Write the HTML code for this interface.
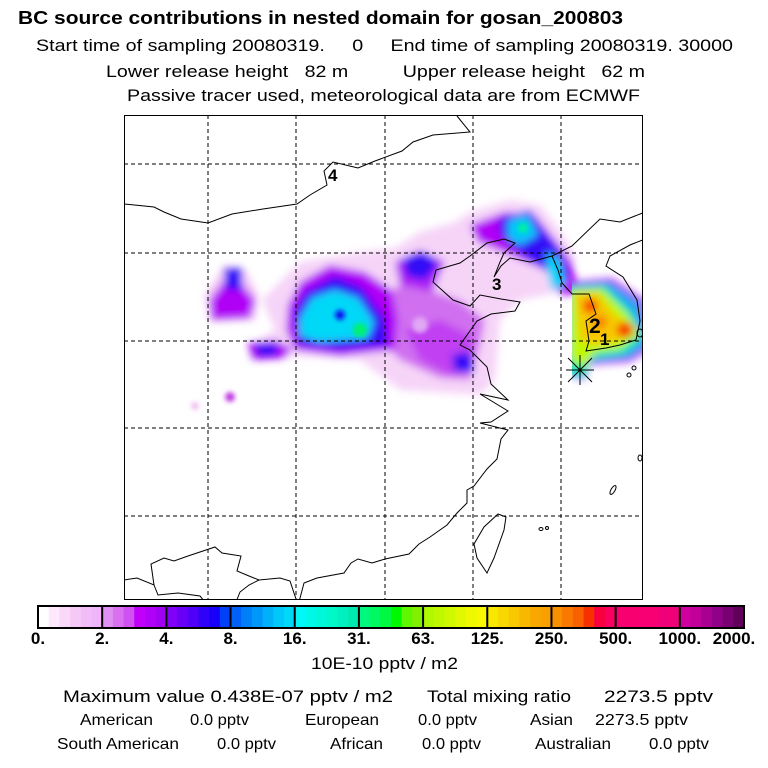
<!DOCTYPE html>
<html><head><meta charset="utf-8"><style>
html,body{margin:0;padding:0;background:#fff;width:768px;height:768px;overflow:hidden}
svg{display:block}
text{font-family:"Liberation Sans",Arial,sans-serif;fill:#000}
</style></head><body>
<svg id="chart" width="768" height="768" viewBox="0 0 768 768" xmlns="http://www.w3.org/2000/svg">
<defs>
<filter id="blur" x="-30%" y="-30%" width="160%" height="160%"><feGaussianBlur stdDeviation="4"/></filter>
<filter id="blur2" x="-30%" y="-30%" width="160%" height="160%"><feGaussianBlur stdDeviation="2.5"/></filter>
<clipPath id="mapclip"><rect x="124" y="115" width="519" height="485"/></clipPath>
<clipPath id="korclip"><rect x="572" y="115" width="71" height="485"/></clipPath>
</defs>
<g>
<text x="18" y="24" font-size="18" font-weight="bold" textLength="605" lengthAdjust="spacingAndGlyphs">BC  source contributions in nested domain for gosan_200803</text>
<text x="36" y="51" font-size="17" textLength="697" lengthAdjust="spacingAndGlyphs" xml:space="preserve">Start time of sampling 20080319.     0     End time of sampling 20080319. 30000</text>
<text x="106" y="77" font-size="17" textLength="539" lengthAdjust="spacingAndGlyphs" xml:space="preserve">Lower release height   82 m          Upper release height   62 m</text>
<text x="127" y="101" font-size="17" textLength="513" lengthAdjust="spacingAndGlyphs">Passive tracer used, meteorological data are from ECMWF</text>
</g>
<g clip-path="url(#mapclip)">
<g filter="url(#blur)">
 <path fill="#f6d4f8" d="M262,300 L300,262 L360,252 L395,248 L420,232 L455,222 L470,212 L510,200 L540,205 L560,230 L575,255 L570,290 L520,300 L500,320 L495,380 L480,395 L400,390 L360,360 L300,356 L250,360 L250,345 L275,330 Z"/>
 <path fill="#f3c4f5" d="M205,295 L225,265 L245,270 L258,295 L255,320 L210,322 Z"/>
 <path fill="#d070f0" d="M380,300 L400,285 L430,290 L460,300 L485,320 L480,345 L470,380 L440,378 L400,360 L380,340 Z"/>
 <path fill="#c040f2" d="M405,330 L440,320 L470,335 L475,370 L450,375 L420,360 Z"/>
 <path fill="#b000f6" d="M288,305 L300,282 L330,265 L365,272 L392,290 L398,320 L395,350 L340,356 L295,350 L286,330 Z"/>
 <path fill="#b020f4" d="M395,262 L420,250 L445,262 L432,292 L400,285 Z"/>
 <path fill="#b000f6" d="M210,300 L225,280 L240,282 L255,300 L250,318 L212,320 Z"/>
 <path fill="#b000f6" d="M248,343 L275,340 L292,348 L285,358 L252,360 Z"/>
 <path fill="#b000f6" d="M470,225 L505,212 L535,215 L555,240 L572,262 L578,292 L562,296 L545,270 L510,255 L478,242 Z"/>
 <path fill="#3010f6" d="M294,312 L305,292 L335,276 L362,287 L385,318 L388,345 L340,350 L298,345 Z"/>
 <path fill="#3010f6" d="M403,258 L425,252 L438,264 L425,280 L407,276 Z"/>
 <path fill="#3010f6" d="M500,218 L530,210 L545,232 L560,250 L570,275 L560,292 L545,270 L515,250 L500,235 Z"/>
 <path fill="#3010f6" d="M452,355 L470,352 L474,372 L455,372 Z"/>
 <path fill="#3010f6" d="M224,268 L242,268 L242,290 L226,290 Z"/>
 <path fill="#3010f6" d="M255,344 L278,344 L276,356 L258,356 Z"/>
 <path fill="#00d8f8" d="M300,318 L312,298 L335,290 L358,298 L374,322 L368,338 L320,342 L300,336 Z"/>
 <path fill="#00c8f8" d="M508,220 L528,215 L538,235 L520,245 L508,238 Z"/>
 <path fill="#00d0f8" d="M547,252 L560,260 L565,285 L552,290 L547,270 Z"/>
</g>
<g filter="url(#blur2)">
 <circle cx="360" cy="330" r="7" fill="#00f070"/>
 <circle cx="340" cy="315" r="5" fill="#1010f0"/>
 <circle cx="523" cy="228" r="5" fill="#00f0a0"/>
 <circle cx="230" cy="397" r="5" fill="#c040e0"/>
 <circle cx="195" cy="406" r="4" fill="#f0c0f0"/>
 <circle cx="420" cy="325" r="8" fill="#e0a8f4"/>
</g>
<g clip-path="url(#korclip)">
 <g filter="url(#blur)">
 <path fill="#b000f6" d="M565,282 L612,278 L645,300 L650,350 L630,362 L590,365 L585,380 L565,375 Z"/>
 <path fill="#20a0f8" d="M565,285 L610,282 L640,302 L648,345 L630,358 L590,362 L585,378 L565,375 Z"/>
 <path fill="#00f0a0" d="M568,288 L605,286 L632,312 L643,338 L625,353 L592,358 L583,376 L568,370 Z"/>
 <path fill="#c0f800" d="M570,290 L602,289 L625,312 L640,333 L620,349 L595,352 L585,366 L570,360 Z"/>
 <path fill="#f8c800" d="M575,294 L598,293 L615,316 L636,328 L615,342 L595,345 L580,340 Z"/>
 <circle cx="590" cy="306" r="7" fill="#f83000"/>
 <circle cx="625" cy="330" r="8" fill="#f83000"/>
 <circle cx="600" cy="322" r="7" fill="#f88000"/>
 </g>
</g>
<g fill="none" stroke="#000" stroke-width="1">
 <polyline points="124,204 154,207 164,212 181,219 208,223 232,214 263,209 297,204 310,195 327,185 324,171 333,162 358,168 375,161 402,151 413,142 433,135 470,132 457,116"/>
 <polyline points="552,256 530,262 510,258 501,266 494,277 500,262 504,253 515,243 504,239 487,243 470,256 460,263 436,270 433,282 453,300 470,306 480,295 501,299 520,302 515,311 491,314 477,321 460,345 470,350 487,367 491,384 508,400 480,394 508,411 491,422 480,423 508,430 501,439 497,459 487,469 474,486 467,490 467,503 457,513 447,525 430,537 419,544 409,554 385,559 372,563 358,559 351,563 344,573 317,578 304,583 299,602"/>
 <polyline points="124,580 137,578 154,585 151,564 164,558 174,561 188,556 215,547 222,553 241,556 237,571 249,576 259,580 280,578 290,581 297,602"/>
 <polyline points="154,585 158,595 178,593 200,596 205,602"/>
 <polyline points="259,580 249,585 240,592 236,602"/>
 <polyline points="552,256 572,246 600,219 620,222 645,212"/>
 <polyline points="645,239 630,245 610,256 606,266 623,277 637,300 640,321 636,340"/>
 <polyline points="552,256 558,270 562,283 572,294 589,294 596,314 586,321 589,341 586,351 606,348 620,345 636,340"/>
 <polygon points="498,514 506,517 504,530 494,558 487,573 477,558 474,544 484,527"/>
 <ellipse cx="640" cy="333" rx="3" ry="4"/>
 <ellipse cx="629" cy="375" rx="2" ry="2"/>
 <ellipse cx="634" cy="368" rx="2" ry="2"/>
 <ellipse cx="640" cy="458" rx="2" ry="3"/>
 <ellipse cx="613" cy="490" rx="2" ry="5" transform="rotate(30 613 490)"/>
 <ellipse cx="541" cy="529" rx="2" ry="1.5"/>
 <ellipse cx="547" cy="528" rx="1.5" ry="1.5"/>
</g>
<g stroke="#000" stroke-width="1" stroke-dasharray="4,3">
 <line x1="208" y1="115" x2="208" y2="600"/><line x1="296" y1="115" x2="296" y2="600"/>
 <line x1="385" y1="115" x2="385" y2="600"/><line x1="473" y1="115" x2="473" y2="600"/>
 <line x1="561" y1="115" x2="561" y2="600"/>
 <line x1="124" y1="164" x2="643" y2="164"/><line x1="124" y1="253" x2="643" y2="253"/>
 <line x1="124" y1="341" x2="643" y2="341"/><line x1="124" y1="428" x2="643" y2="428"/>
 <line x1="124" y1="516" x2="643" y2="516"/>
</g>
<g stroke="#000" stroke-width="1">
 <line x1="568" y1="358" x2="592" y2="382"/><line x1="592" y1="358" x2="568" y2="382"/>
 <line x1="580" y1="355" x2="580" y2="385"/><line x1="566" y1="370" x2="594" y2="370"/>
</g>
<text x="328" y="181" font-size="17" font-weight="bold">4</text>
<text x="492" y="290" font-size="17" font-weight="bold">3</text>
<text x="589" y="333" font-size="21" font-weight="bold">2</text>
<text x="600" y="345" font-size="17" font-weight="bold">1</text>
</g>
<rect x="124.5" y="115.5" width="518" height="484" fill="none" stroke="#000" stroke-width="1"/>
<g id="colorbar"></g>
<g font-size="16">
<text x="311" y="669" font-size="17" textLength="147" lengthAdjust="spacingAndGlyphs">10E-10 pptv / m2</text>
<text x="63" y="702" font-size="17" textLength="330" lengthAdjust="spacingAndGlyphs">Maximum value  0.438E-07 pptv / m2</text>
<text x="427" y="702" font-size="17" textLength="144" lengthAdjust="spacingAndGlyphs">Total mixing ratio</text>
<text x="604" y="702" font-size="17" textLength="109" lengthAdjust="spacingAndGlyphs">2273.5 pptv</text>
<text x="80" y="725" textLength="73" lengthAdjust="spacingAndGlyphs">American</text>
<text x="190" y="725" textLength="59" lengthAdjust="spacingAndGlyphs">0.0 pptv</text>
<text x="305" y="725" textLength="74" lengthAdjust="spacingAndGlyphs">European</text>
<text x="418" y="725" textLength="59" lengthAdjust="spacingAndGlyphs">0.0 pptv</text>
<text x="530" y="725" textLength="43" lengthAdjust="spacingAndGlyphs">Asian</text>
<text x="595" y="725" textLength="93" lengthAdjust="spacingAndGlyphs">2273.5 pptv</text>
<text x="57" y="749" textLength="122" lengthAdjust="spacingAndGlyphs">South American</text>
<text x="217" y="749" textLength="59" lengthAdjust="spacingAndGlyphs">0.0 pptv</text>
<text x="330" y="749" textLength="53" lengthAdjust="spacingAndGlyphs">African</text>
<text x="422" y="749" textLength="59" lengthAdjust="spacingAndGlyphs">0.0 pptv</text>
<text x="535" y="749" textLength="76" lengthAdjust="spacingAndGlyphs">Australian</text>
<text x="649" y="749" textLength="60" lengthAdjust="spacingAndGlyphs">0.0 pptv</text>
</g>
</svg>
<script>
const tickLabels = ["0.","2.","4.","8.","16.","31.","63.","125.","250.","500.","1000.","2000."];
const segmentColors = [
 ["#ffffff","#fde8fd","#fad8fa","#f5c8f5","#f2bcf7","#f0b4f8"],
 ["#e090f2","#d870f0","#d050f2","#c000f8","#b000f8","#a000f2"],
 ["#8000f8","#6800f8","#5000f8","#3000f8","#1800f8","#0040f8"],
 ["#0060f8","#0080f8","#0098f8","#00b0f8","#00c8f8","#00d8f8"],
 ["#00f8f8","#00f8e8","#00f8d8","#00f8c8","#00f0c0","#00e8b0"],
 ["#00f880","#00f860","#00f840","#00f800","#60f800","#80f000"],
 ["#b0f800","#c0f800","#d0f800","#e0f800","#f0f800","#f8f800"],
 ["#f8e800","#f8d800","#f8c800","#f8b800","#f8a800","#f8a000"],
 ["#f89000","#f87800","#f86000","#f83000","#f80040","#f80060"],
 ["#f80070","#f80070","#f80074","#f80074","#f00078","#f00078"],
 ["#d000a0","#c00098","#a80090","#900088","#780070","#600058"]
];
(function(){
 const ns="http://www.w3.org/2000/svg";
 const g=document.getElementById('colorbar');
 const x0=38,x1=744,y0=606,h=22;
 const n=segmentColors.length, w=(x1-x0)/n;
 const xs=i=>x0+i*w;
 segmentColors.forEach((cols,i)=>{
  cols.forEach((c,j)=>{
   const r=document.createElementNS(ns,'rect');
   
   
   r.setAttribute('x',xs(i)+j*w/cols.length);r.setAttribute('y',y0);
   r.setAttribute('width',w/cols.length+0.5);r.setAttribute('height',h);
   r.setAttribute('fill',c);g.appendChild(r);
  });
 });
 for(let i=1;i<n;i++){
  const l=document.createElementNS(ns,'line');
  
  
  l.setAttribute('x1',xs(i));l.setAttribute('x2',xs(i));l.setAttribute('y1',y0);l.setAttribute('y2',y0+h);
  l.setAttribute('stroke','#000');l.setAttribute('stroke-width','2');g.appendChild(l);
 }
 const b=document.createElementNS(ns,'rect');
 
 
 b.setAttribute('x',x0);b.setAttribute('y',y0);b.setAttribute('width',x1-x0);b.setAttribute('height',h);
 b.setAttribute('fill','none');b.setAttribute('stroke','#000');b.setAttribute('stroke-width','2');g.appendChild(b);
 tickLabels.forEach((t,i)=>{
  const tx=document.createElementNS(ns,'text');
  
  
  let x=xs(i);
  if(i===n) x=x-10;
  tx.setAttribute('x',x);tx.setAttribute('y',644);
  tx.setAttribute('text-anchor','middle');
  tx.setAttribute('font-size','17');tx.setAttribute('font-weight','bold');
  tx.textContent=t;g.appendChild(tx);
 });
})();
</script>
</body></html>
